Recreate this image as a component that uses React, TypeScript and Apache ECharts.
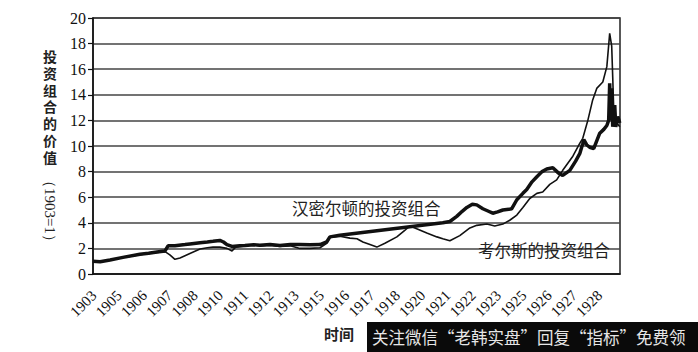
import React, { useEffect, useRef } from "react";
import * as echarts from "echarts";

const yTicks = [0, 2, 4, 6, 8, 10, 12, 14, 16, 18, 20];

// x ticks every 15 months starting Oct 1903 (decimal years) and their labels
const xTickValues = [
  1903.75, 1905.0, 1906.25, 1907.5, 1908.75, 1910.0, 1911.25, 1912.5, 1913.75, 1915.0, 1916.25,
  1917.5, 1918.75, 1920.0, 1921.25, 1922.5, 1923.75, 1925.0, 1926.25, 1927.5, 1928.75,
];
const xTickLabels = [
  "1903", "1905", "1906", "1907", "1908", "1910", "1911", "1912", "1913", "1915", "1916",
  "1917", "1918", "1920", "1921", "1922", "1923", "1925", "1926", "1927", "1928",
];

// Hamilton portfolio (thick line): time in decimal years, value (1903 = 1)
const hamiltonYears = [
  1903.75, 1904.1, 1904.59, 1905.23, 1906.07, 1906.5, 1906.91, 1907.31, 1907.46, 1907.8,
  1908.3, 1908.54, 1909.04, 1909.4, 1909.68, 1910.02, 1910.2, 1910.37, 1910.62, 1911.0,
  1911.26, 1911.7, 1912.0, 1912.5, 1912.99, 1913.5, 1913.98, 1914.47, 1914.97, 1915.3,
  1915.46, 1915.95, 1921.04, 1921.39, 1921.73, 1922.0, 1922.23, 1922.5, 1922.72, 1923.02,
  1923.3, 1923.51, 1923.75, 1924.01, 1924.3, 1924.45, 1924.7, 1925.0, 1925.19, 1925.45,
  1925.69, 1925.95, 1926.18, 1926.48, 1926.75, 1926.97, 1927.32, 1927.6, 1927.81, 1927.96,
  1928.01, 1928.15, 1928.3, 1928.5, 1928.65, 1928.8, 1929.0, 1929.15, 1929.24, 1929.29,
  1929.34, 1929.39, 1929.44, 1929.54, 1929.59, 1929.69, 1929.79,
];
const hamiltonValues = [
  1.0, 0.95, 1.1, 1.3, 1.55, 1.62, 1.72, 1.8, 2.2, 2.2,
  2.3, 2.35, 2.45, 2.5, 2.55, 2.62, 2.5, 2.3, 2.15, 2.2,
  2.22, 2.28, 2.25, 2.3, 2.22, 2.3, 2.3, 2.28, 2.3, 2.5,
  2.9, 3.02, 4.0, 4.1, 4.5, 4.9, 5.2, 5.45, 5.4, 5.1,
  4.9, 4.75, 4.85, 5.0, 5.05, 5.1, 5.8, 6.3, 6.6, 7.2,
  7.6, 8.0, 8.2, 8.3, 7.9, 7.7, 8.1, 8.8, 9.4, 10.2,
  10.5, 10.1, 9.9, 9.8, 10.4, 11.0, 11.3, 11.6, 12.0, 14.9,
  12.0, 14.5, 11.5, 13.2, 11.5, 12.3, 11.8,
];

// Cowles portfolio (thin line)
const cowlesYears = [
  1903.75, 1904.1, 1904.59, 1905.23, 1906.07, 1906.5, 1906.91, 1907.31, 1907.55, 1907.8,
  1908.05, 1908.54, 1909.04, 1909.4, 1909.68, 1910.02, 1910.37, 1910.62, 1910.8, 1911.26,
  1911.7, 1912.0, 1912.5, 1912.99, 1913.5, 1913.98, 1914.47, 1914.97, 1915.3, 1915.46,
  1915.95, 1916.45, 1916.8, 1917.09, 1917.44, 1917.78, 1918.18, 1918.77, 1919.16, 1919.41,
  1919.81, 1920.25, 1920.75, 1921.04, 1921.39, 1921.88, 1922.38, 1922.72, 1923.22, 1923.61,
  1924.01, 1924.35, 1924.7, 1925.0, 1925.34, 1925.69, 1925.98, 1926.33, 1926.67, 1926.97,
  1927.47, 1927.81, 1927.96, 1928.21, 1928.45, 1928.65, 1928.95, 1929.15, 1929.29, 1929.39,
  1929.44, 1929.49, 1929.64, 1929.79,
];
const cowlesValues = [
  1.0, 0.95, 1.1, 1.3, 1.5, 1.6, 1.68, 1.75, 1.5, 1.15,
  1.25, 1.6, 1.95, 2.05, 2.1, 2.1, 2.0, 1.8, 2.1, 2.2,
  2.3, 2.2, 2.25, 2.15, 2.2, 2.0, 2.0, 2.05, 2.4, 2.85,
  2.95, 2.8, 2.75, 2.5, 2.3, 2.1, 2.4, 2.9, 3.4, 3.75,
  3.5, 3.2, 2.9, 2.75, 2.6, 3.0, 3.6, 3.8, 3.9, 3.75,
  3.9, 4.2, 4.6, 5.2, 5.9, 6.3, 6.4, 7.0, 7.35, 8.1,
  9.2, 10.2, 10.6, 12.0, 13.6, 14.5, 15.0, 16.2, 18.8, 17.8,
  15.4, 12.8, 11.8, 11.5,
];

const hamiltonLabel = "汉密尔顿的投资组合";
const cowlesLabel = "考尔斯的投资组合";
const yTitleChars = "投资组合的价值";
const yTitleUnit = "（1903=1）";
const xTitle = "时间";
const footerText = "关注微信“老韩实盘”回复“指标”免费领";

const SERIF = "'Liberation Serif', 'Times New Roman', serif";
const CJK = "'Noto Sans CJK SC', sans-serif";

export default function App() {
  const ref = useRef<HTMLDivElement>(null);
  useEffect(() => {
    if (!ref.current) return;
    const chart = echarts.init(ref.current, undefined, { renderer: "svg" });
    const ham = hamiltonYears.map((t, i) => [t, hamiltonValues[i]]);
    const cow = cowlesYears.map((t, i) => [t, cowlesValues[i]]);
    chart.setOption({
      animation: false,
      backgroundColor: "#ffffff",
      grid: {
        left: 93,
        right: 78,
        top: 18,
        bottom: 78,
        show: true,
        borderColor: "#222",
        borderWidth: 1.5,
      },
      xAxis: {
        type: "value",
        min: xTickValues[0],
        max: 1929.8,
        interval: 1.25,
        axisLine: { show: true, onZero: false, lineStyle: { color: "#111", width: 1.5 } },
        axisTick: { show: false },
        splitLine: { show: false },
        axisLabel: { show: false },
      },
      yAxis: {
        type: "value",
        min: yTicks[0],
        max: yTicks[yTicks.length - 1],
        interval: 2,
        axisLine: { show: true, lineStyle: { color: "#111", width: 1.5 } },
        axisTick: { show: true, length: 5, lineStyle: { color: "#111", width: 1.2 } },
        splitLine: { show: true, lineStyle: { color: "#444", width: 1.5 } },
        axisLabel: {
          margin: 7,
          fontFamily: SERIF,
          fontSize: 16,
          color: "#111",
        },
      },
      series: [
        {
          name: hamiltonLabel,
          type: "line",
          data: ham,
          symbol: "none",
          lineStyle: { color: "#111", width: 3.5 },
          z: 3,
        },
        {
          name: cowlesLabel,
          type: "line",
          data: cow,
          symbol: "none",
          lineStyle: { color: "#111", width: 1.6 },
          z: 4,
        },
      ],
    });

    // rotated year labels placed through the x axis scale
    const tickLabels = xTickValues.map((v, i) => {
      const p = chart.convertToPixel({ gridIndex: 0 }, [v, 0]) as number[];
      return {
        type: "text",
        x: p[0] + 1,
        y: p[1] + 19,
        rotation: Math.PI / 4,
        style: {
          text: xTickLabels[i],
          font: `15px ${SERIF}`,
          align: "right",
          verticalAlign: "middle",
          fill: "#111",
        },
      };
    });

    // vertical (upright) title characters, one per line
    const titleChars = yTitleChars.split("").map((ch, i) => ({
      type: "text",
      x: 50,
      y: 56 + i * 16.8,
      style: {
        text: ch,
        font: `bold 14px ${CJK}`,
        align: "center",
        verticalAlign: "middle",
        fill: "#222",
      },
    }));

    chart.setOption({
      graphic: [
        ...tickLabels,
        ...titleChars,
        {
          type: "text",
          x: 50,
          y: 211,
          rotation: -Math.PI / 2,
          style: {
            text: yTitleUnit,
            font: `15px ${SERIF}`,
            align: "center",
            verticalAlign: "middle",
            fill: "#222",
          },
        },
        {
          type: "text",
          x: 292,
          y: 208,
          style: {
            text: hamiltonLabel,
            font: `16.5px ${CJK}`,
            align: "left",
            verticalAlign: "middle",
            fill: "#222",
          },
        },
        {
          type: "text",
          x: 478,
          y: 250,
          style: {
            text: cowlesLabel,
            font: `16.5px ${CJK}`,
            align: "left",
            verticalAlign: "middle",
            fill: "#222",
          },
        },
        {
          type: "text",
          x: 324,
          y: 333,
          style: {
            text: xTitle,
            font: `bold 15px ${CJK}`,
            align: "left",
            verticalAlign: "middle",
            fill: "#222",
          },
        },
        {
          type: "rect",
          shape: { x: 367, y: 322, width: 331, height: 30 },
          style: { fill: "#0a0a0a" },
        },
        {
          type: "text",
          x: 372,
          y: 337,
          style: {
            text: footerText,
            font: `16.5px ${CJK}`,
            align: "left",
            verticalAlign: "middle",
            fill: "#e6e6e6",
          },
        },
      ],
    });
    return () => chart.dispose();
  }, []);
  return (
    <div
      ref={ref}
      style={{ position: "absolute", left: 0, top: 0, width: 698, height: 352 }}
    />
  );
}
